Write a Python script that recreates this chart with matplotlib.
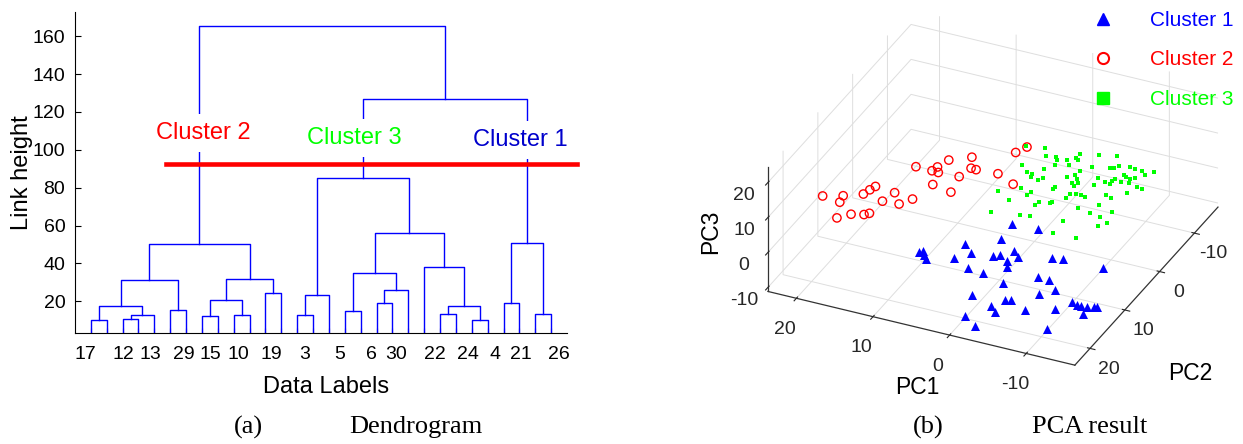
import matplotlib.pyplot as plt
from matplotlib.lines import Line2D

plt.rcParams['font.family'] = ['Liberation Sans', 'DejaVu Sans']
plt.rcParams['axes.unicode_minus'] = False
serif = ['Liberation Serif', 'DejaVu Serif']

# (a) dendrogram: leaves sit at 1..30, merge k gets node id 30+k
link_left = [1, 3, 32, 31, 6, 34, 8, 10, 37, 12, 39, 36, 14, 43, 17, 19, 46, 45,
             23, 25, 49, 22, 48, 44, 27, 29, 55, 54, 42]
link_right = [2, 4, 5, 33, 7, 35, 9, 11, 38, 13, 40, 41, 15, 16, 18, 20, 21, 47,
              24, 26, 50, 51, 52, 53, 28, 30, 56, 57, 58]
link_height = [10.3, 10.6, 12.9, 17.5, 15.2, 31.1, 12.2, 12.8, 20.5, 24.6, 31.8, 50.3,
               12.9, 23.4, 14.9, 18.9, 26.0, 35.0, 13.5, 10.3, 17.5, 38.0, 56.2, 84.9,
               19.3, 13.3, 51.0, 126.9, 165.3]
leaf_names = ['17', '12', '13', '29', '15', '10', '19', '3', '5', '6', '30', '22',
              '24', '4', '21', '26']
leaf_name_pos = [0.63, 3.05, 4.78, 6.84, 8.53, 10.32, 12.36, 14.48, 16.69, 18.67,
                 20.21, 22.67, 24.74, 26.46, 28.11, 30.48]
cut_height = 92.3
cluster_names = ['Cluster 2', 'Cluster 3', 'Cluster 1']
cluster_x = [8.07, 17.6, 28.06]
cluster_y = [108.9, 106.2, 105.2]

# (b) PCA scores
c1_pc1 = [10.3, 10.3, 9.2, 8.1, 6.8, 4.3, 6.0, 3.8, 0.7, 3.4, 1.9, 1.7, -0.3, -1.3, -1.1,
          -3.9, 0.4, -2.4, -4.4, -0.1, -2.9, 3.4, -0.6, -0.5, -0.1, -4.9, -5.9, -10.6,
          -5.6, -5.7, -7.9, -6.3, -4.6, -7.3, -9.2, -11.3, -11.8, -12.0, -13.8, -12.6,
          -13.8, -13.8, -11.3]
c1_pc2 = [10.6, 9.3, 11.6, 13.2, 5.0, 8.8, 10.0, 10.7, 13.3, 2.1, 7.6, 6.2, 8.6, 10.8, 11.4,
          17.1, 17.1, 17.7, 21.0, 20.3, 23.4, -1.0, 0.3, 6.9, 5.0, 5.8, 4.7, 3.7, 11.3,
          8.3, 11.6, 12.5, 16.9, 18.9, 14.3, 14.2, 13.8, 13.1, 15.2, 13.8, 13.3, 12.4, 21.2]
c1_pc3 = [-8, -9, -7, -6, -10, -7, -8, -9, -6, -10, -8, -9, -7, -6, -10, -7, -8, -9, -6,
          -10, -8, -9, -7, -6, -10, -7, -8, -9, -6, -10, -8, -9, -7, -6, -10, -7, -8, -9,
          -6, -10, -8, -9, -7]

c2_pc1 = [19.6, 18.1, 17.5, 15.6, 15.8, 13.7, 12.9, 16.1, 14.8, 15.2, 13.7, 12.2, 11.3,
          10.0, 12.1, 11.0, 10.1, 10.5, 9.9, 8.9, 6.9, 6.5, 7.7, 7.4, 5.7, 3.3, 3.8, 2.1, 1.0]
c2_pc2 = [17.7, 15.1, 17.4, 22.4, 17.9, 18.8, 19.0, 13.7, 14.7, 12.2, 13.5, 13.3, 14.0,
          13.0, 7.4, 5.2, 5.6, 4.5, 2.8, 9.6, 8.8, 7.3, 1.0, 1.9, 4.2, 3.2, -3.0, -2.5, 3.9]
c2_pc3 = [11, 9, 10, 12, 8, 10, 11, 9, 12, 10, 8, 11, 9, 10, 12, 9, 11, 8, 10, 11, 9, 12,
          10, 8, 11, 10, 9, 12, 9]

c3_pc1 = [3.0, 0.9, 0.7, -0.8, 0.1, -1.9, -0.3, -2.0, -2.6, 2.3, -0.5, -4.3, -3.5, 0.0,
          -2.4, -4.6, 1.0, -0.2, -2.0, -1.0, -2.0, -3.5, -3.2, -3.9, -3.3, -4.0, -5.4,
          -7.8, -1.8, -5.5, -8.2, -9.3, -8.6, -10.6, -10.3, -12.3, -12.3, -13.3, -5.9,
          -4.4, -4.4, -2.6, -5.4, -6.5, -4.9, -6.4, -7.5, -8.0, -9.7, -9.0, -9.6, -10.5,
          -10.4, -10.7, -10.0, -11.7, -11.4, -11.7, -13.6, -13.0, -4.1, -4.8, -12.1, -6.7,
          -5.7, -7.4, -7.3, -8.3, -11.0, -10.5, -5.2, -5.8, -8.3, -11.0, -9.7, -13.0,
          -11.5, -8.3, -13.2, -12.5, -8.3, -12.0]
c3_pc2 = [-4.1, 1.5, 0.6, 2.3, 0.8, 3.2, 4.4, 5.5, 7.8, 5.4, 8.3, 9.4, 6.3, 12.5, 9.3,
          11.3, -5.4, -3.0, -1.8, -4.3, -1.5, -1.8, -3.0, -3.4, -5.4, -4.4, -6.8, -6.7,
          1.3, -4.5, -3.7, -2.5, -5.3, -4.2, -6.3, -4.0, -4.8, -5.1, -0.1, -1.9, 0.4, 3.3,
          -0.4, 1.7, -0.1, 2.7, -1.9, 0.6, 1.0, -1.9, -1.1, -0.2, -2.1, -2.2, -4.2, -1.6,
          -3.7, -1.5, 0.3, -2.4, 3.0, 5.1, -0.1, 5.7, 2.3, 4.3, 2.7, 3.8, 3.6, 1.2, 6.5,
          8.4, 5.7, 5.5, 5.3, 6.2, 6.4, 10.0, 10.7, 6.7, 13.0, 14.5]
c3_pc3 = [10, 12, 9, 11, 8, 11, 9, 10, 12, 8, 10, 12, 9, 11, 8, 11, 9, 10, 12, 8, 10, 12,
          9, 11, 8, 11, 9, 10, 12, 8, 10, 12, 9, 11, 8, 11, 9, 10, 12, 8, 10, 12, 9, 11,
          8, 11, 9, 10, 12, 8, 10, 12, 9, 11, 8, 11, 9, 10, 12, 8, 10, 12, 9, 11, 8, 11,
          9, 10, 12, 8, 10, 12, 9, 11, 8, 11, 9, 10, 12, 8, 10, 12]

W, H = 1243, 444
fig = plt.figure(figsize=(W / 100, H / 100), dpi=100)

# ---------------- (a) dendrogram ----------------
ax = fig.add_axes([75 / W, 111 / H, 492 / W, 321 / H])
node = {i: (float(i), 0.0) for i in range(1, 31)}
for k in range(len(link_height)):
    xa, ha = node[link_left[k]]
    xb, hb = node[link_right[k]]
    h = link_height[k]
    ax.plot([xa, xa, xb, xb], [ha, h, h, hb], color='blue', lw=1.0)
    node[31 + k] = ((xa + xb) / 2, h)

ax.plot([5.74, 31.65], [cut_height, cut_height], color='red', lw=3.3, clip_on=False, zorder=4)
for name, cx, cy, col in zip(cluster_names, cluster_x, cluster_y, ['red', (0, 1, 0), (0, 0, 0.8)]):
    ax.text(cx, cy, name, color=col, fontsize=17, ha='center', va='center', zorder=5,
            bbox=dict(facecolor='white', edgecolor='none', pad=6))

ax.set_xlim(0, 31)
ax.set_ylim(3.3, 172.8)
ax.set_yticks(range(20, 161, 20))
ax.set_xticks(leaf_name_pos)
ax.set_xticklabels(leaf_names)
ax.set_xticks(range(1, 31), minor=True)
ax.tick_params(axis='x', which='major', length=0, pad=9, labelsize=14)
ax.tick_params(axis='x', which='minor', direction='in', length=3.5, width=0.8)
ax.tick_params(axis='y', direction='in', length=4, width=0.8, pad=7, labelsize=14)
for s in ['top', 'right']:
    ax.spines[s].set_visible(False)
ax.set_xlabel('Data Labels', fontsize=17, labelpad=4)
ax.xaxis.set_label_coords(0.51, -0.135)
ax.set_ylabel('Link height', fontsize=17, labelpad=0)

fig.text(248 / W, 1 - 427 / H, '(a)', family=serif, fontsize=19, ha='center', va='center')
fig.text(416 / W, 1 - 427 / H, 'Dendrogram', family=serif, fontsize=19, ha='center', va='center')

# ---------------- (b) PCA 3-D scatter ----------------
ax3 = fig.add_axes([0.5924, 0.0, 0.402, 1.126], projection='3d')
ax3.set_proj_type('ortho')
ax3.view_init(elev=31, azim=115)
ax3.set_box_aspect((1, 1, 0.427), zoom=0.972)
ax3.set_facecolor('none')

ax3.scatter(c1_pc1, c1_pc2, c1_pc3, marker='^', color='blue', s=42, linewidths=0, depthshade=False)
ax3.scatter(c2_pc1, c2_pc2, c2_pc3, marker='o', facecolors='none', edgecolors='red', s=36,
            linewidths=1.0, depthshade=False)
ax3.scatter(c3_pc1, c3_pc2, c3_pc3, marker='s', color=(0, 1, 0), s=11, linewidths=0, depthshade=False)

ax3.set_xlim(-16.35, 23.72)
ax3.set_ylim(-16.78, 24.36)
ax3.set_zlim(-11.15, 24.3)
for a in [ax3.xaxis, ax3.yaxis, ax3.zaxis]:
    a.set_ticks([-10, 0, 10, 20])
    a.set_pane_color((1, 1, 1, 0))
    a.pane.set_edgecolor('0.85')
    a._axinfo['grid'].update(color='0.87', linewidth=0.7)
    a.line.set_color('0.2')
    a.line.set_linewidth(0.9)
ax3.zaxis.set_ticks_position('upper')
ax3.tick_params(labelsize=14, colors='0.15')
ax3.xaxis.set_tick_params(pad=7)
ax3.zaxis.set_tick_params(pad=2)

fig.text(917 / W, 1 - 388 / H, 'PC1', fontsize=16.5, ha='center', va='center')
fig.text(1190 / W, 1 - 373 / H, 'PC2', fontsize=16.5, ha='center', va='center')
fig.text(711 / W, 1 - 232 / H, 'PC3', fontsize=16.5, ha='center', va='center', rotation=90)

handles = [Line2D([], [], ls='none', marker='^', color='blue', ms=8),
           Line2D([], [], ls='none', marker='o', mfc='none', mec='red', mew=1.5, ms=8),
           Line2D([], [], ls='none', marker='s', color=(0, 1, 0), ms=8)]
fig.legend(handles, ['Cluster 1', 'Cluster 2', 'Cluster 3'], loc='upper left',
           bbox_to_anchor=(1093 / W, 1 - 11 / H), frameon=False, fontsize=15,
           labelcolor=['blue', 'red', (0, 1, 0)], handlelength=1.0, handletextpad=1.75,
           labelspacing=0.98, borderpad=0, borderaxespad=0)

fig.text(928 / W, 1 - 427 / H, '(b)', family=serif, fontsize=19, ha='center', va='center')
fig.text(1090 / W, 1 - 427 / H, 'PCA result', family=serif, fontsize=19, ha='center', va='center')

fig.savefig('out.png', dpi=100, facecolor='white')
